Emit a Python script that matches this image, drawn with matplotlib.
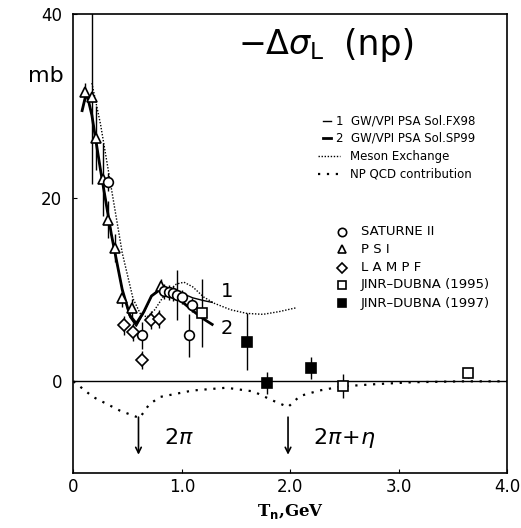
import matplotlib
matplotlib.use("Agg")
import matplotlib.pyplot as plt

# theory curves
fx98_x = [0.08, 0.12, 0.17, 0.25, 0.35, 0.45, 0.52, 0.58, 0.65, 0.72, 0.8, 0.9, 1.0, 1.1, 1.2, 1.28]
fx98_y = [29.5, 31.5, 29.0, 23.0, 16.0, 10.0, 7.0, 6.0, 7.5, 9.3, 10.2, 10.1, 9.6, 9.1, 8.8, 8.6]
sp99_x = [0.08, 0.12, 0.17, 0.25, 0.35, 0.45, 0.52, 0.58, 0.65, 0.72, 0.8, 0.9, 1.0, 1.1, 1.2, 1.28]
sp99_y = [29.5, 31.5, 29.0, 23.0, 16.0, 10.0, 7.2, 6.3, 7.6, 9.3, 10.0, 9.6, 8.7, 7.7, 6.8, 6.2]
meson_x = [0.17, 0.25, 0.35, 0.45, 0.55, 0.62, 0.68, 0.75, 0.85, 0.95, 1.02, 1.1, 1.2, 1.3, 1.45, 1.6, 1.75, 1.9, 2.05]
meson_y = [32.5, 28.0, 21.0, 14.0, 9.0, 7.3, 7.0, 7.8, 9.6, 10.6, 10.8, 10.3, 9.2, 8.5, 7.8, 7.4, 7.3, 7.6, 8.0]
qcd_x = [0.0, 0.18, 0.43, 0.61, 0.7, 0.8, 1.1, 1.41, 1.66, 1.84, 1.98, 2.09, 2.27, 2.48, 2.8, 3.13, 3.6, 4.0]
qcd_y = [0.0, -1.7, -3.2, -4.0, -2.5, -1.7, -1.0, -0.7, -1.1, -2.1, -2.8, -1.6, -1.0, -0.55, -0.3, -0.1, 0.0, 0.0]

# data sets (x, y, error)
psi_x = [0.11, 0.17, 0.21, 0.27, 0.32, 0.38, 0.45, 0.54, 0.81]
psi_y = [31.5, 31.0, 26.5, 22.0, 17.6, 14.5, 9.1, 8.0, 10.4]
psi_e = [1.0, 9.5, 3.5, 4.0, 2.0, 1.5, 1.0, 1.0, 0.8]
sat_x = [0.32, 0.63, 0.84, 0.88, 0.92, 0.96, 1.0, 1.07, 1.09]
sat_y = [21.7, 5.0, 9.8, 9.7, 9.6, 9.4, 9.2, 5.0, 8.3]
sat_e = [1.0, 1.5, 0.8, 0.8, 0.8, 2.7, 0.8, 2.3, 0.8]
lampf_x = [0.47, 0.55, 0.63, 0.72, 0.79]
lampf_y = [6.1, 5.4, 2.3, 6.7, 6.8]
lampf_e = [1.0, 1.0, 1.0, 1.0, 1.0]
j95_x = [1.19, 2.49, 3.64]
j95_y = [7.4, -0.5, 0.9]
j95_e = [3.7, 1.3, 0.5]
j97_x = [1.6, 1.79, 2.19]
j97_y = [4.3, -0.2, 1.5]
j97_e = [3.1, 1.2, 1.2]

fig = plt.figure(figsize=(5.21, 5.28), dpi=100)
ax = fig.add_axes([0.141, 0.104, 0.832, 0.869])

ax.axhline(0, color="black", lw=1.0)
ax.plot(meson_x, meson_y, color="black", lw=1.0, dashes=(1, 1.2))
ax.plot(qcd_x, qcd_y, color="black", lw=1.6, dashes=(1, 3))
ax.plot(fx98_x, fx98_y, color="black", lw=1.0)
ax.plot(sp99_x, sp99_y, color="black", lw=2.0)

kw = dict(color="black", ecolor="black", elinewidth=1.0, capsize=0, linestyle="none",
          markerfacecolor="white", markeredgecolor="black", markeredgewidth=1.2)
ax.errorbar(psi_x, psi_y, yerr=psi_e, marker="^", markersize=7, **kw)
ax.errorbar(sat_x, sat_y, yerr=sat_e, marker="o", markersize=7, **kw)
ax.errorbar(lampf_x, lampf_y, yerr=lampf_e, marker="D", markersize=6, **kw)
ax.errorbar(j95_x, j95_y, yerr=j95_e, marker="s", markersize=7, **kw)
kw["markerfacecolor"] = "black"
ax.errorbar(j97_x, j97_y, yerr=j97_e, marker="s", markersize=7, **kw)

# threshold arrows
for xa in [0.6, 1.98]:
    ax.annotate("", xy=(xa, -8.3), xytext=(xa, -3.6),
                arrowprops=dict(arrowstyle="->", color="black", lw=1.2))
ax.text(0.84, -6.8, r"$2\pi$", fontsize=16)
ax.text(2.21, -6.8, r"$2\pi\!+\!\eta$", fontsize=16)

# curve labels
ax.text(1.36, 9.2, "1", fontsize=14)
ax.text(1.36, 5.2, "2", fontsize=14)

ax.text(1.52, 36.7, r"$-\Delta\sigma_{\rm L}$", fontsize=24, va="center")
ax.text(2.50, 36.7, "(np)", fontsize=25, va="center")
ax.text(-0.42, 32.6, "mb", fontsize=16)

# legend for the curves
ax.plot([2.3, 2.38], [28.4, 28.4], color="black", lw=1.0)
ax.text(2.42, 28.4, "1  GW/VPI PSA Sol.FX98", fontsize=8.5, va="center")
ax.plot([2.3, 2.38], [26.5, 26.5], color="black", lw=2.0)
ax.text(2.42, 26.5, "2  GW/VPI PSA Sol.SP99", fontsize=8.5, va="center")
ax.plot([2.26, 2.46], [24.5, 24.5], color="black", lw=1.0, dashes=(1, 1.2))
ax.text(2.55, 24.5, "Meson Exchange", fontsize=8.5, va="center")
ax.plot([2.26, 2.46], [22.6, 22.6], color="black", lw=1.6, dashes=(1, 3))
ax.text(2.55, 22.6, "NP QCD contribution", fontsize=8.5, va="center")

# legend for the data
mx = 2.48
names = ["SATURNE II", "P S I", "L A M P F", "JINR\u2013DUBNA (1995)", "JINR\u2013DUBNA (1997)"]
marks = ["o", "^", "D", "s", "s"]
fills = ["white", "white", "white", "white", "black"]
ys = [16.3, 14.4, 12.4, 10.5, 8.5]
for name, m, f, yy in zip(names, marks, fills, ys):
    ax.plot([mx], [yy], marker=m, markersize=6 if m != "D" else 5, markerfacecolor=f,
            markeredgecolor="black", markeredgewidth=1.2, linestyle="none")
    ax.text(mx + 0.17, yy, name, fontsize=9.5, va="center")

ax.set_xlim(0, 4.0)
ax.set_ylim(-10, 40)
ax.set_xticks([0, 1, 2, 3, 4])
ax.set_xticklabels(["0", "1.0", "2.0", "3.0", "4.0"])
ax.set_yticks([0, 20, 40])
ax.tick_params(direction="in", length=3, labelsize=12)
ax.tick_params(axis="y", pad=8)
ax.set_xlabel(r"T$_{\mathbf{n}}$,GeV", fontsize=12, fontweight="bold", family="DejaVu Serif")
for s in ax.spines.values():
    s.set_linewidth(1.2)

fig.savefig("out.png", dpi=100)
